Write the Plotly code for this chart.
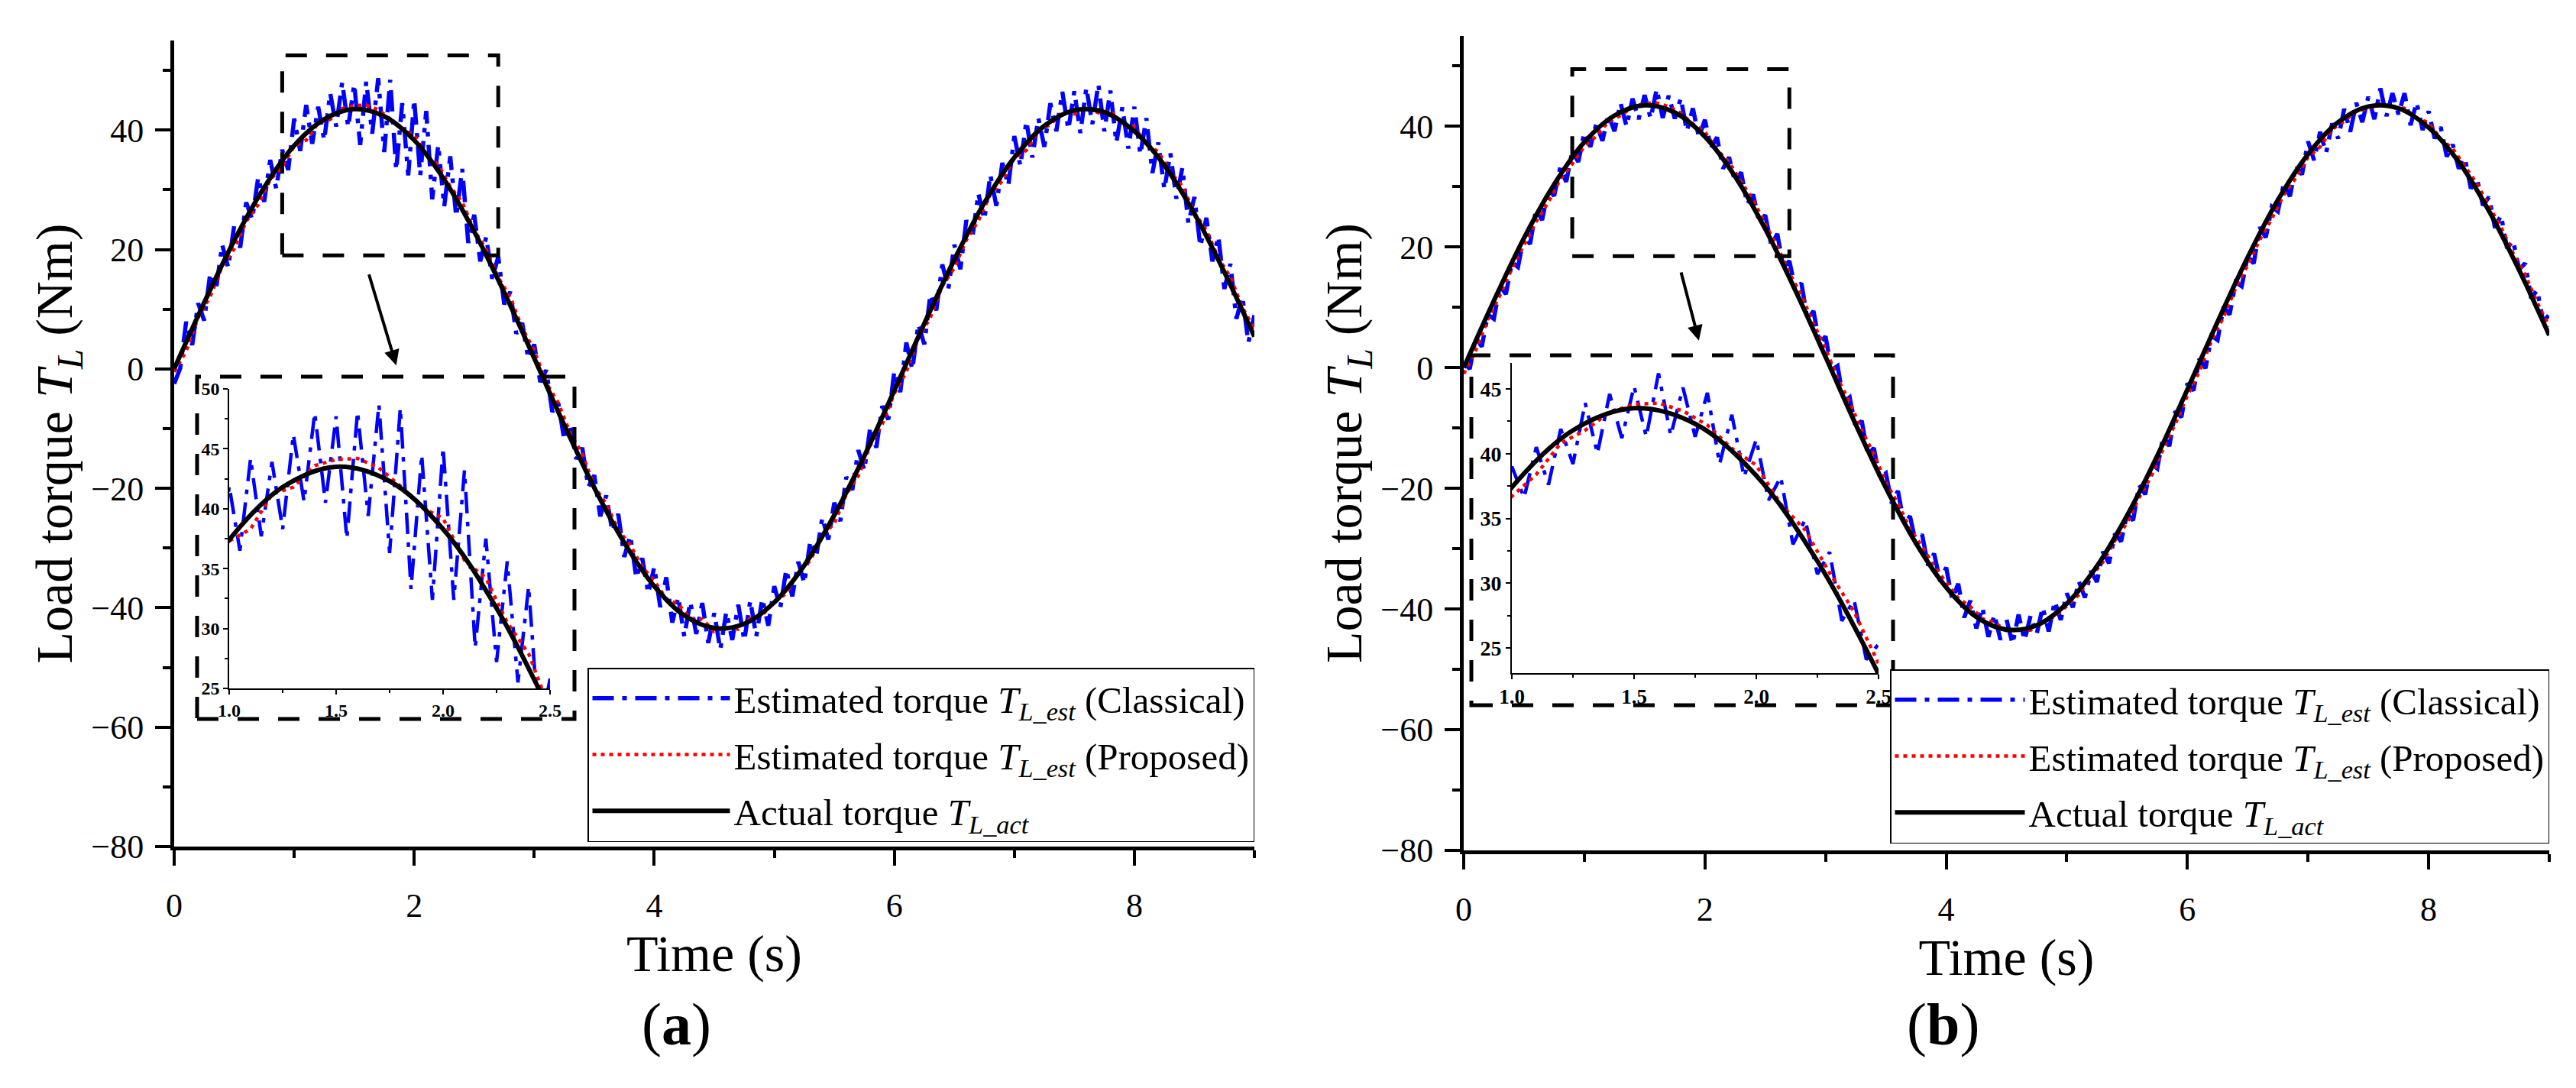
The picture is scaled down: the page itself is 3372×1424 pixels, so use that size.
import plotly.graph_objects as go

# -----------------------------
# Load torque estimation: classical vs proposed observer
# -----------------------------

# time grids (s)
t_fine = [round(0.05 * i, 2) for i in range(181)]
t_mid = [round(0.1 * i, 1) for i in range(91)]
t_coarse = [round(0.25 * i, 2) for i in range(37)]

# actual load torque (Nm), read every 0.25 s
torque_actual = [0.0, 11.1, 21.5, 30.4, 37.4, 41.8, 43.5, 42.3, 38.3, 31.7, 23.0, 12.8, 1.8,
                 -9.4, -19.9, -29.1, -36.4, -41.3, -43.4, -42.7, -39.1, -32.9, -24.5, -14.6,
                 -3.6, 7.6, 18.3, 27.8, 35.4, 40.7, 43.3, 43.0, 39.8, 34.1, 26.0, 16.2, 5.4]

# (a) classical estimate, every 0.05 s
classical_a = [-2.5, 0.1, 7.9, 4.0, 11.0, 8.1, 16.0, 13.5, 20.8, 17.0,
               24.0, 20.3, 27.9, 25.0, 32.1, 28.0, 35.0, 30.2, 36.7, 33.3,
               41.9, 36.5, 44.2, 37.7, 43.9, 38.3, 46.2, 40.6, 48.0, 40.5,
               47.7, 37.5, 48.1, 39.4, 48.7, 36.3, 48.4, 33.3, 44.5, 32.4,
               45.1, 32.4, 43.2, 28.4, 37.5, 27.2, 35.6, 25.5, 33.5, 21.1,
               25.8, 18.0, 22.1, 15.1, 18.8, 10.8, 12.9, 5.9, 7.7, 1.7,
               4.1, -2.2, -0.2, -7.2, -5.7, -11.9, -9.5, -15.1, -13.2, -19.8,
               -17.8, -24.7, -21.2, -27.2, -24.3, -31.5, -27.9, -35.0, -31.7, -37.6,
               -33.2, -39.9, -34.9, -42.5, -38.2, -44.8, -39.0, -44.4, -39.2, -45.9,
               -40.9, -47.0, -40.7, -45.4, -39.5, -45.5, -38.8, -44.8, -38.5, -43.0,
               -36.4, -40.0, -33.6, -38.1, -32.3, -35.9, -28.8, -31.3, -24.9, -28.6,
               -22.4, -25.5, -18.1, -20.3, -13.6, -17.0, -9.7, -13.2, -6.2, -8.5,
               -0.4, -3.9, 4.4, -0.1, 7.5, 4.1, 12.5, 9.8, 17.5, 13.4,
               20.8, 16.7, 24.9, 21.9, 29.4, 25.0, 32.5, 27.3, 34.5, 30.7,
               39.0, 34.0, 41.5, 35.4, 42.0, 37.2, 44.5, 39.8, 46.4, 40.1,
               46.5, 39.5, 47.1, 41.0, 47.7, 39.8, 46.6, 37.9, 43.8, 36.9,
               43.9, 35.9, 42.0, 32.8, 37.9, 30.1, 36.1, 28.5, 33.7, 24.4,
               28.8, 20.5, 25.3, 18.0, 22.2, 13.4, 17.6, 8.4, 12.1, 4.4,
               9.0]

# (a) proposed estimate, every 0.1 s
proposed_a = [-0.5, 3.0, 8.6, 12.1, 17.2, 20.1, 24.7, 27.5, 31.7, 33.8,
              37.3, 38.3, 41.2, 41.8, 43.6, 44.1, 44.2, 43.4, 41.9, 40.1,
              39.2, 35.7, 34.2, 30.5, 27.9, 23.2, 20.0, 15.3, 12.0, 6.8,
              3.1, -2.3, -5.7, -10.8, -14.2, -19.7, -22.6, -27.0, -29.5, -33.2,
              -35.5, -38.5, -39.4, -41.8, -41.9, -44.0, -43.3, -43.6, -41.8, -41.2,
              -39.1, -37.6, -34.1, -32.1, -27.9, -25.9, -21.0, -17.9, -12.8, -9.2,
              -4.1, -0.5, 5.1, 8.6, 13.9, 16.9, 21.6, 24.8, 29.2, 31.5,
              35.3, 36.6, 39.9, 40.9, 43.0, 42.7, 43.8, 42.9, 43.2, 41.1,
              40.6, 37.5, 36.4, 32.9, 30.6, 26.2, 23.2, 18.6, 15.4, 10.3,
              6.7]

# (b) classical estimate, every 0.05 s
classical_b = [1.0, -0.2, 5.0, 3.5, 8.8, 8.1, 13.6, 12.2, 17.5, 16.7,
               21.8, 20.5, 26.3, 24.5, 29.5, 28.5, 33.2, 30.8, 35.9, 34.1,
               39.0, 36.6, 40.5, 37.6, 41.9, 39.2, 43.9, 40.0, 44.6, 41.2,
               45.2, 41.3, 46.2, 41.4, 45.1, 41.3, 44.7, 39.2, 43.0, 38.2,
               41.1, 36.4, 38.2, 33.0, 34.9, 30.7, 32.4, 27.1, 28.7, 24.1,
               25.3, 20.3, 22.2, 16.6, 17.7, 13.0, 14.0, 8.0, 9.4, 4.0,
               5.2, -0.4, 0.3, -5.7, -4.9, -10.0, -8.8, -14.5, -13.3, -18.3,
               -17.5, -22.5, -20.4, -25.8, -24.6, -29.2, -27.6, -32.8, -30.8, -35.4,
               -33.1, -38.4, -35.8, -41.4, -38.6, -43.2, -39.7, -44.6, -40.9, -45.1,
               -41.7, -45.8, -40.9, -45.2, -41.1, -44.2, -39.7, -43.7, -38.7, -41.8,
               -37.4, -39.7, -35.4, -38.1, -33.7, -35.5, -30.5, -32.4, -27.5, -28.8,
               -24.2, -25.3, -19.4, -21.0, -15.9, -16.7, -11.3, -13.0, -7.2, -8.2,
               -2.6, -3.8, 1.5, -0.1, 5.3, 4.6, 10.1, 8.8, 14.2, 13.5,
               18.5, 17.3, 23.3, 21.6, 26.7, 25.9, 30.6, 28.4, 33.6, 32.0,
               37.5, 34.4, 39.1, 35.6, 40.5, 38.0, 42.9, 39.1, 43.9, 40.7,
               44.9, 41.2, 46.3, 41.7, 45.5, 42.0, 45.5, 40.2, 44.0, 39.4,
               42.5, 38.0, 39.9, 35.0, 37.0, 33.0, 34.8, 29.7, 31.4, 26.9,
               28.3, 23.2, 25.3, 19.8, 21.1, 16.3, 17.3, 11.5, 12.9, 7.6,
               8.8]

# (b) proposed estimate, every 0.1 s
proposed_b = [-1.0, 2.9, 8.0, 12.0, 16.5, 20.3, 24.2, 27.4, 31.2, 33.8,
              36.7, 38.4, 40.8, 41.8, 43.2, 43.8, 43.9, 43.3, 42.2, 40.4,
              39.1, 36.1, 34.1, 30.8, 27.8, 23.8, 20.1, 15.7, 12.0, 7.3,
              3.2, -1.8, -5.7, -10.4, -14.3, -19.0, -22.5, -26.7, -29.6, -32.9,
              -35.6, -38.2, -39.6, -41.6, -42.2, -43.6, -43.5, -43.5, -42.1, -41.2,
              -39.5, -37.6, -34.6, -32.2, -28.6, -25.7, -21.5, -18.0, -13.4, -9.3,
              -4.6, -0.6, 4.5, 8.4, 13.2, 17.0, 21.2, 24.7, 28.7, 31.5,
              34.9, 36.6, 39.5, 40.9, 42.5, 43.0, 43.7, 43.1, 43.0, 41.4,
              40.6, 37.9, 36.3, 33.3, 30.5, 26.8, 23.3, 19.0, 15.4, 10.8,
              6.8]

series_names = [
    'Estimated torque <i>T</i><sub><i>L_est</i></sub> (Classical)',
    'Estimated torque <i>T</i><sub><i>L_est</i></sub> (Proposed)',
    'Actual torque <i>T</i><sub><i>L_act</i></sub>',
]

W, H = 3372, 1424
FONT = 'Liberation Serif'

fig = go.Figure()


def add_panel(xa, ya, classical, proposed, legend, show, lw):
    fig.add_trace(go.Scatter(x=t_fine, y=classical, mode='lines', name=series_names[0],
                             line=dict(color='#0000FF', width=lw[0], dash='28px,11px,6px,11px'),
                             xaxis=xa, yaxis=ya, legend=legend, showlegend=show,
                             legendgroup=legend + 'c'))
    fig.add_trace(go.Scatter(x=t_mid, y=proposed, mode='lines', name=series_names[1],
                             line=dict(color='#FF0000', width=lw[1], dash='5px,6px'),
                             xaxis=xa, yaxis=ya, legend=legend, showlegend=show,
                             legendgroup=legend + 'p'))
    fig.add_trace(go.Scatter(x=t_coarse, y=torque_actual, mode='lines', name=series_names[2],
                             line=dict(color='black', width=lw[2], shape='spline'),
                             xaxis=xa, yaxis=ya, legend=legend, showlegend=show,
                             legendgroup=legend + 'a'))


add_panel('x', 'y', classical_a, proposed_a, 'legend', True, (5.5, 4.5, 6))
add_panel('x2', 'y2', classical_b, proposed_b, 'legend2', True, (5.5, 4.5, 6))
add_panel('x3', 'y3', classical_a, proposed_a, 'legend', False, (4.5, 4.5, 6))
add_panel('x4', 'y4', classical_b, proposed_b, 'legend2', False, (4.5, 4.5, 6))


def px_x(p):
    return p / W


def px_y(p):
    return 1 - p / H


def main_x(domain, anchor):
    return dict(domain=domain, anchor=anchor, range=[0, 9], tickmode='linear', tick0=0, dtick=2,
                ticks='outside', ticklen=20, tickwidth=4, tickcolor='black',
                minor=dict(dtick=1, ticklen=10, tickwidth=4, ticks='outside', tickcolor='black'),
                showline=True, linewidth=5, linecolor='black', showgrid=False, zeroline=False,
                automargin=False,
                tickfont=dict(family=FONT, size=44, color='black'), ticklabelstandoff=14,
                title=dict(text='Time (s)', font=dict(family=FONT, size=68, color='black'),
                           standoff=2))


def main_y(domain, anchor):
    return dict(domain=domain, anchor=anchor, range=[-80, 55], tickmode='linear', tick0=-80,
                dtick=20, ticks='outside', ticklen=20, tickwidth=4, tickcolor='black',
                minor=dict(dtick=10, ticklen=10, tickwidth=4, ticks='outside', tickcolor='black'),
                showline=True, linewidth=5, linecolor='black', showgrid=False, zeroline=False,
                automargin=False,
                tickfont=dict(family=FONT, size=44, color='black'), ticklabelstandoff=6,
                title=dict(text='Load torque <i>T<sub>L</sub></i> (Nm)',
                           font=dict(family=FONT, size=68, color='black'), standoff=4))


def mirror_x(over, anchor):
    return dict(overlaying=over, anchor=anchor, side='top', range=[0, 9], tickmode='linear',
                tick0=0, dtick=2, ticks='inside', ticklen=20, tickwidth=4, tickcolor='black',
                minor=dict(dtick=1, ticklen=10, tickwidth=4, ticks='inside', tickcolor='black'),
                showticklabels=False, showline=True, linewidth=5, linecolor='black',
                showgrid=False, zeroline=False, automargin=False)


def mirror_y(over, anchor):
    return dict(overlaying=over, anchor=anchor, side='right', range=[-80, 55], tickmode='linear',
                tick0=-80, dtick=20, ticks='inside', ticklen=20, tickwidth=4, tickcolor='black',
                minor=dict(dtick=10, ticklen=10, tickwidth=4, ticks='inside', tickcolor='black'),
                showticklabels=False, showline=True, linewidth=5, linecolor='black',
                showgrid=False, zeroline=False, automargin=False)


def inset_x(domain, anchor, size, lw):
    return dict(domain=domain, anchor=anchor, range=[1, 2.5], tickmode='linear', tick0=1,
                dtick=0.5, tickformat='.1f', ticks='outside', ticklen=6, tickwidth=lw,
                tickcolor='black', minor=dict(dtick=0.25, ticklen=4, tickwidth=lw,
                                              ticks='outside', tickcolor='black'),
                showline=True, linewidth=lw, linecolor='black', showgrid=False, zeroline=False,
                automargin=False,
                tickfont=dict(family=FONT, size=size, color='black', weight='bold'))


def inset_y(domain, anchor, rng, size, lw):
    return dict(domain=domain, anchor=anchor, range=rng, tickmode='linear', tick0=25, dtick=5,
                ticks='outside', ticklen=6, tickwidth=lw, tickcolor='black',
                minor=dict(dtick=2.5, ticklen=4, tickwidth=lw, ticks='outside',
                           tickcolor='black'),
                showline=True, linewidth=lw, linecolor='black', showgrid=False, zeroline=False,
                automargin=False,
                tickfont=dict(family=FONT, size=size, color='black', weight='bold'))


dom_xa = [px_x(220), px_x(1634)]
dom_ya = [px_y(1100), px_y(45)]
dom_xb = [px_x(1908), px_x(3329)]
dom_yb = [px_y(1105), px_y(39)]

legend_style = dict(xanchor='right', yanchor='top', bgcolor='white', bordercolor='black',
                    borderwidth=1.5, font=dict(family=FONT, size=49, color='black'),
                    tracegroupgap=7, traceorder='grouped')

dashed = dict(color='black', width=5, dash='28px,25px')

fig.update_layout(
    width=W, height=H, autosize=False,
    margin=dict(l=0, r=0, t=0, b=0, autoexpand=False),
    paper_bgcolor='white', plot_bgcolor='rgba(0,0,0,0)',
    font=dict(family=FONT, color='black'),
    xaxis=main_x(dom_xa, 'y'), yaxis=main_y(dom_ya, 'x'),
    xaxis2=main_x(dom_xb, 'y2'), yaxis2=main_y(dom_yb, 'x2'),
    xaxis3=inset_x([px_x(292), px_x(712)], 'y3', 24, 1.5),
    yaxis3=inset_y([px_y(893), px_y(501)], 'x3', [25, 50], 24, 1.5),
    xaxis4=inset_x([px_x(1971), px_x(2451)], 'y4', 27, 2),
    yaxis4=inset_y([px_y(873), px_y(467)], 'x4', [23.06, 47], 28, 2),
    xaxis5=mirror_x('x', 'y'), yaxis5=mirror_y('y', 'x'),
    xaxis6=mirror_x('x2', 'y2'), yaxis6=mirror_y('y2', 'x2'),
    legend=dict(x=px_x(1634), y=px_y(866), itemwidth=180, **legend_style),
    legend2=dict(x=px_x(3329), y=px_y(868), itemwidth=170, **legend_style),
    shapes=[
        # zoom windows on the main plots
        dict(type='rect', xref='x', yref='y', x0=0.9, x1=2.7, y0=19, y1=52.5, line=dashed),
        dict(type='rect', xref='x2', yref='y2', x0=0.9, x1=2.7, y0=18.5, y1=49.5, line=dashed),
        # frames around the insets
        dict(type='rect', xref='paper', yref='paper', x0=px_x(250), x1=px_x(744),
             y0=px_y(933), y1=px_y(485), line=dashed),
        dict(type='rect', xref='paper', yref='paper', x0=px_x(1918), x1=px_x(2470),
             y0=px_y(915), y1=px_y(457), line=dashed),
    ],
    annotations=[
        dict(x=1.85, y=0.6, ax=1.62, ay=16, xref='x', yref='y', axref='x', ayref='y',
             text='', showarrow=True, arrowhead=2, arrowsize=1, arrowwidth=4,
             arrowcolor='black'),
        dict(x=1.95, y=4.5, ax=1.8, ay=16, xref='x2', yref='y2', axref='x2', ayref='y2',
             text='', showarrow=True, arrowhead=2, arrowsize=1, arrowwidth=4,
             arrowcolor='black'),
        dict(x=px_x(830), y=px_y(1378), xref='paper', yref='paper', text='(<b>a</b>)',
             showarrow=False, font=dict(family=FONT, size=78, color='black')),
        dict(x=px_x(2585), y=px_y(1378), xref='paper', yref='paper', text='(<b>b</b>)',
             showarrow=False, font=dict(family=FONT, size=78, color='black')),
    ],
)

fig.write_html('out.html')
